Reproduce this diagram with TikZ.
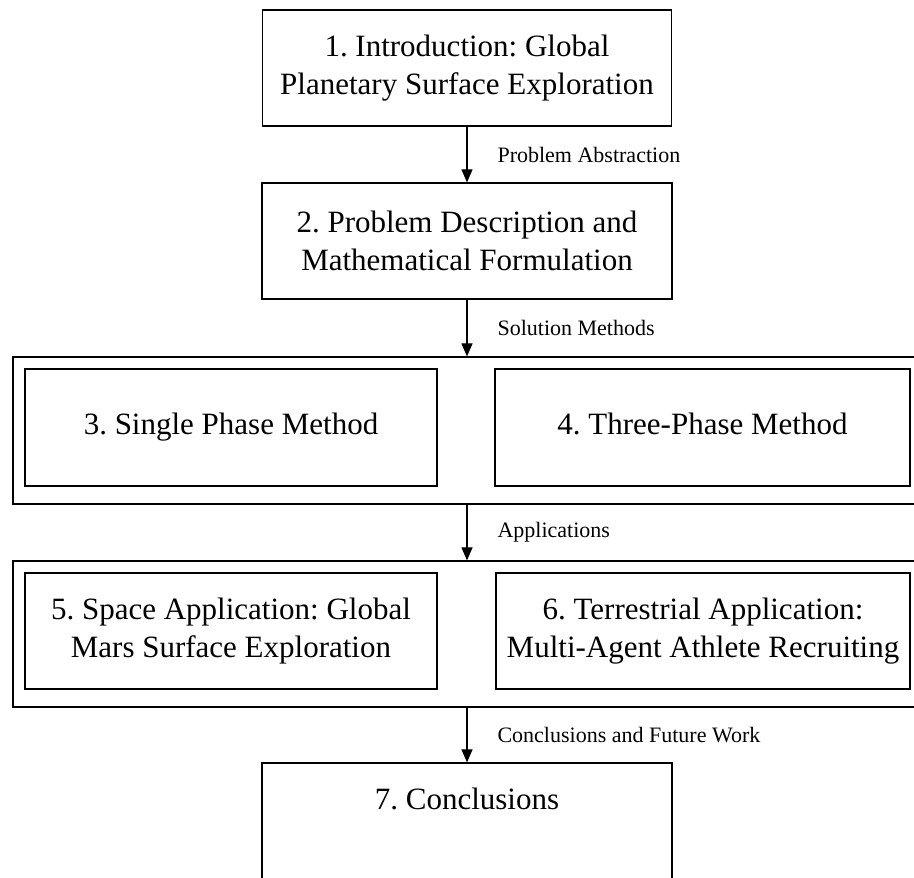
\documentclass[tikz,border=0pt]{standalone}
\usepackage{fontspec}
\setmainfont{Liberation Serif}
\usetikzlibrary{arrows.meta}
\frenchspacing

\tikzset{
  box/.style={draw, line width=1.2pt, inner sep=0pt, align=center,
    font=\fontsize{31}{38}\selectfont},
  oneline/.style={text height=21pt, text depth=7pt},
  group/.style={draw, line width=1.2pt, inner sep=0pt},
  arr/.style={line width=1.1pt, -{Triangle[width=11pt,length=13pt]}},
  lbl/.style={font=\fontsize{22}{26}\selectfont, inner sep=0pt, anchor=west, xshift=30pt}
}

\begin{document}
\begin{tikzpicture}[x=1pt, y=-1pt]
  \useasboundingbox (0,0) rectangle (914,878);

  % chapter boxes
  \node[box, minimum width=409pt, minimum height=116pt] (c1) at (467,68)
    {1. Introduction: Global\\Planetary Surface Exploration};
  \node[box, minimum width=410pt, minimum height=116pt] (c2) at (467,241)
    {2. Problem Description and\\Mathematical Formulation};

  % solution methods group
  \node[group, minimum width=917pt, minimum height=147pt] (g1) at (471.5,430.5) {};
  \node[box, oneline, minimum width=412pt, minimum height=117pt] (c3) at (231,427.5)
    {3. Single Phase Method};
  \node[box, oneline, minimum width=415pt, minimum height=117pt] (c4) at (702.5,427.5)
    {4. Three-Phase Method};

  % applications group
  \node[group, minimum width=917pt, minimum height=146pt] (g2) at (471.5,634) {};
  \node[box, minimum width=412pt, minimum height=116pt] (c5) at (231,631)
    {5. Space Application: Global\\Mars Surface Exploration};
  \node[box, minimum width=414pt, minimum height=116pt] (c6) at (703,631)
    {6. Terrestrial Application:\\Multi-Agent Athlete Recruiting};

  % conclusions
  \node[box, minimum width=410pt, minimum height=116pt] (c7) at (467,821) {};
  \node[box, oneline, draw=none] (t7) at ([yshift=19pt]c7.center) {7. Conclusions};

  % connectors
  \draw[arr] (c1.south) -- (c2.north)
    node[lbl, midway] {Problem Abstraction};
  \draw[arr] (c2.south) -- (c2.south |- g1.north)
    node[lbl, midway] {Solution Methods};
  \draw[arr] (c2.south |- g1.south) -- (c2.south |- g2.north)
    node[lbl, midway] {Applications};
  \draw[arr] (c2.south |- g2.south) -- (c7.north)
    node[lbl, midway] {Conclusions and Future Work};
\end{tikzpicture}
\end{document}
